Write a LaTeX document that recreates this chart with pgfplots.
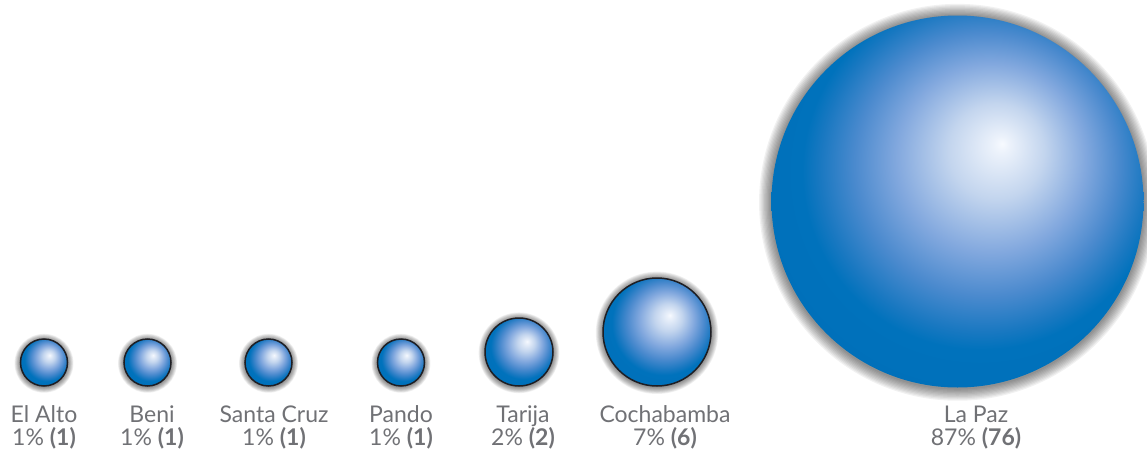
\documentclass[border=0pt]{standalone}
\usepackage{pgfplots}
\pgfplotsset{compat=1.18}
\usepackage{fontspec}
\setmainfont{Lato}
\definecolor{txt}{RGB}{112,113,117}
\definecolor{shW}{RGB}{247,250,255}
\definecolor{shV}{RGB}{236,242,251}
\definecolor{shA}{RGB}{195,213,238}
\definecolor{shB}{RGB}{130,168,222}
\definecolor{shC}{RGB}{75,138,206}
\definecolor{shD}{RGB}{25,120,193}
\definecolor{shE}{RGB}{0,114,188}
\definecolor{shF}{RGB}{0,110,184}
\definecolor{rim}{RGB}{30,30,35}
\pgfdeclareradialshading{sphereshade}{\pgfpoint{6bp}{7.8bp}}{color(0bp)=(shW); color(1.1bp)=(shV); color(6.4bp)=(shA); color(12.7bp)=(shB); color(17.7bp)=(shC); color(21.9bp)=(shD); color(24bp)=(shE); color(35.4bp)=(shF); color(50bp)=(shF)}
\newdimen\sphR
\newdimen\sphS
\newdimen\sphT
\pgfdeclareplotmark{sphere}{%
  \sphR=\pgfplotmarksize
  \pgfmathsetlength{\sphS}{(2.5pt+0.04*\sphR)/10}%
  \pgfscope
    \pgfsetfillcolor{black}%
    \pgfsetfillopacity{0.055}%
    \foreach \k in {1,...,10}{%
      \pgfmathsetlength{\sphT}{\sphR+\k*\sphS}%
      \pgfpathcircle{\pgfqpoint{0pt}{-0.4pt}}{\sphT}%
      \pgfusepath{fill}%
    }%
  \endpgfscope
  \pgfpathcircle{\pgfpointorigin}{\sphR}%
  \pgfshadepath{sphereshade}{0}%
  \ifdim\sphlw pt>0pt
    \pgfsetlinewidth{\sphlw pt}\pgfsetstrokecolor{rim}\pgfusepath{stroke}%
  \else
    \pgfusepath{}%
  \fi
}
\begin{document}
\begin{tikzpicture}
\begin{axis}[
  hide axis, scale only axis,
  width=573.5pt, height=226pt,
  xmin=0, xmax=1147, ymin=0, ymax=452,
  clip=false,
]
\addplot[scatter, only marks, mark=sphere,
  scatter/use mapped color={draw=rim},
  visualization depends on={value \thisrow{size}\as\rad},
  visualization depends on={value \thisrow{lw}\as\sphlw},
  scatter/@pre marker code/.append style={/tikz/mark size=\rad pt},
] table {
x      y      size   lw
44     89.5   11.75  0.75
147.5  89.5   11.75  0.75
268.5  89.5   11.75  0.75
401    89.5   11.75  0.75
519    100    17     0.75
657    120    27     0.75
957.5  250.5  93     0
};
\begin{scope}[every node/.style={anchor=base, text=txt, font=\fontsize{11.5}{13}\selectfont, inner sep=0pt}]
\node at (axis cs:44,30) {El Alto};
\node at (axis cs:44,7) {1\% \textbf{(1)}};
\node at (axis cs:152,30) {Beni};
\node at (axis cs:152,7) {1\% \textbf{(1)}};
\node at (axis cs:274,30) {Santa Cruz};
\node at (axis cs:274,7) {1\% \textbf{(1)}};
\node at (axis cs:401,30) {Pando};
\node at (axis cs:401,7) {1\% \textbf{(1)}};
\node at (axis cs:523,30) {Tarija};
\node at (axis cs:523,7) {2\% \textbf{(2)}};
\node at (axis cs:665,30) {Cochabamba};
\node at (axis cs:665,7) {7\% \textbf{(6)}};
\node at (axis cs:976,30) {La Paz};
\node at (axis cs:976,7) {87\% \textbf{(76)}};
\end{scope}
\end{axis}
\pgfresetboundingbox
\path (current axis.south west) rectangle (current axis.north east);
\end{tikzpicture}
\end{document}
